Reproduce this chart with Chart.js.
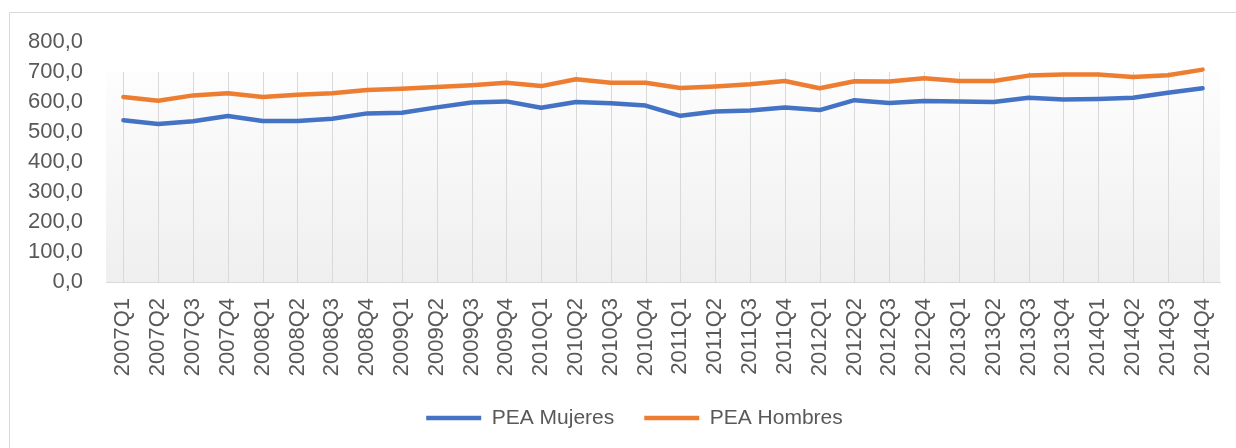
<!DOCTYPE html>
<html>
<head>
<meta charset="utf-8">
<script src="https://cdn.jsdelivr.net/npm/chart.js@4.4.0/dist/chart.umd.min.js"></script>
<style>
  html, body { margin: 0; padding: 0; background: #ffffff; }
  #wrap { position: relative; width: 1236px; height: 448px; }
</style>
</head>
<body>
<div id="wrap"><canvas id="c"></canvas></div>
<script>
const categories = [
  '2007Q1','2007Q2','2007Q3','2007Q4',
  '2008Q1','2008Q2','2008Q3','2008Q4',
  '2009Q1','2009Q2','2009Q3','2009Q4',
  '2010Q1','2010Q2','2010Q3','2010Q4',
  '2011Q1','2011Q2','2011Q3','2011Q4',
  '2012Q1','2012Q2','2012Q3','2012Q4',
  '2013Q1','2013Q2','2013Q3','2013Q4',
  '2014Q1','2014Q2','2014Q3','2014Q4'
];
const peaMujeres = [
  539, 527, 536, 553,
  537, 537, 544, 562,
  564, 582, 598, 602,
  581, 600, 596, 588,
  554, 568, 572, 582,
  573, 606, 597, 603,
  602, 600, 614, 608,
  610, 614, 631, 646
];
const peaHombres = [
  617, 604, 622, 629,
  617, 624, 629, 640,
  644, 650, 656, 664,
  653, 676, 664, 664,
  647, 652, 659, 670,
  646, 669, 668, 679,
  670, 670, 688, 692,
  692, 683, 689, 708
];
const seriesNames = ['PEA Mujeres', 'PEA Hombres'];
const yTickValues = [0, 100, 200, 300, 400, 500, 600, 700, 800];
const yTickLabels = ['0,0', '100,0', '200,0', '300,0', '400,0', '500,0', '600,0', '700,0', '800,0'];

const FONT = 'Liberation Sans';
const TEXT = '#595959';
const GRID = '#d9d9d9';

const decor = {
  id: 'decor',
  afterLayout(chart) {
    if (chart.legend) {
      chart.legend.left += 19.5;
      chart.legend.right += 19.5;
    }
  },
  beforeDraw(chart) {
    const ctx = chart.ctx;
    const xs = chart.scales.x, ys = chart.scales.y;
    ctx.save();
    ctx.strokeStyle = GRID;
    ctx.lineWidth = 1;
    ctx.beginPath();
    ctx.moveTo(9.5, chart.height);
    ctx.lineTo(9.5, 12.5);
    ctx.lineTo(chart.width, 12.5);
    ctx.stroke();
    const top = Math.round(ys.getPixelForValue(700));
    const bottom = ys.bottom;
    const g = ctx.createLinearGradient(0, top, 0, bottom);
    g.addColorStop(0, '#fdfdfd');
    g.addColorStop(1, '#efefef');
    ctx.fillStyle = g;
    ctx.fillRect(xs.left, top, xs.right - xs.left, bottom - top);
    ctx.restore();
  },
  beforeDatasetsDraw(chart) {
    const ctx = chart.ctx;
    const xs = chart.scales.x, ys = chart.scales.y;
    const top = Math.round(ys.getPixelForValue(700));
    ctx.save();
    ctx.strokeStyle = GRID;
    ctx.lineWidth = 1;
    ctx.beginPath();
    for (let i = 0; i < categories.length; i++) {
      const x = Math.round(xs.getPixelForValue(i)) + 0.5;
      ctx.moveTo(x, top);
      ctx.lineTo(x, ys.bottom);
    }
    ctx.stroke();
    ctx.restore();
  }
};

new Chart(document.getElementById('c'), {
  type: 'line',
  data: {
    labels: categories,
    datasets: [
      {
        label: seriesNames[0],
        data: peaMujeres,
        borderColor: '#4472C4',
        backgroundColor: '#4472C4',
        borderWidth: 4.5,
        pointRadius: 0,
        tension: 0,
        borderCapStyle: 'round',
        borderJoinStyle: 'round'
      },
      {
        label: seriesNames[1],
        data: peaHombres,
        borderColor: '#ED7D31',
        backgroundColor: '#ED7D31',
        borderWidth: 4.5,
        pointRadius: 0,
        tension: 0,
        borderCapStyle: 'round',
        borderJoinStyle: 'round'
      }
    ]
  },
  options: {
    responsive: true,
    maintainAspectRatio: false,
    animation: false,
    layout: { padding: { top: 42, left: 10, right: 16, bottom: 9.5 } },
    plugins: {
      tooltip: { enabled: false },
      legend: {
        position: 'bottom',
        labels: {
          usePointStyle: true,
          pointStyle: 'line',
          pointStyleWidth: 55,
          boxHeight: 21,
          padding: 30,
          color: TEXT,
          font: { family: FONT, size: 21 }
        }
      }
    },
    scales: {
      x: {
        offset: true,
        grid: { display: false, drawTicks: false },
        border: { display: true, color: GRID, width: 1 },
        afterFit(s) { s.height = 95.5; s.paddingLeft = 0; s.paddingRight = 0; },
        ticks: {
          autoSkip: false,
          maxRotation: 90,
          minRotation: 90,
          padding: 16,
          color: TEXT,
          font: { family: FONT, size: 22 }
        }
      },
      y: {
        min: 0,
        max: 800,
        grid: { display: false, drawTicks: false },
        border: { display: false },
        afterFit(s) { s.width = 96; s.paddingTop = 0; s.paddingBottom = 0; },
        afterBuildTicks(s) { s.ticks = yTickValues.map(v => ({ value: v })); },
        ticks: {
          padding: 23,
          color: TEXT,
          font: { family: FONT, size: 22 },
          callback(v) { return yTickLabels[yTickValues.indexOf(v)]; }
        }
      }
    }
  },
  plugins: [decor]
});
</script>
</body>
</html>
